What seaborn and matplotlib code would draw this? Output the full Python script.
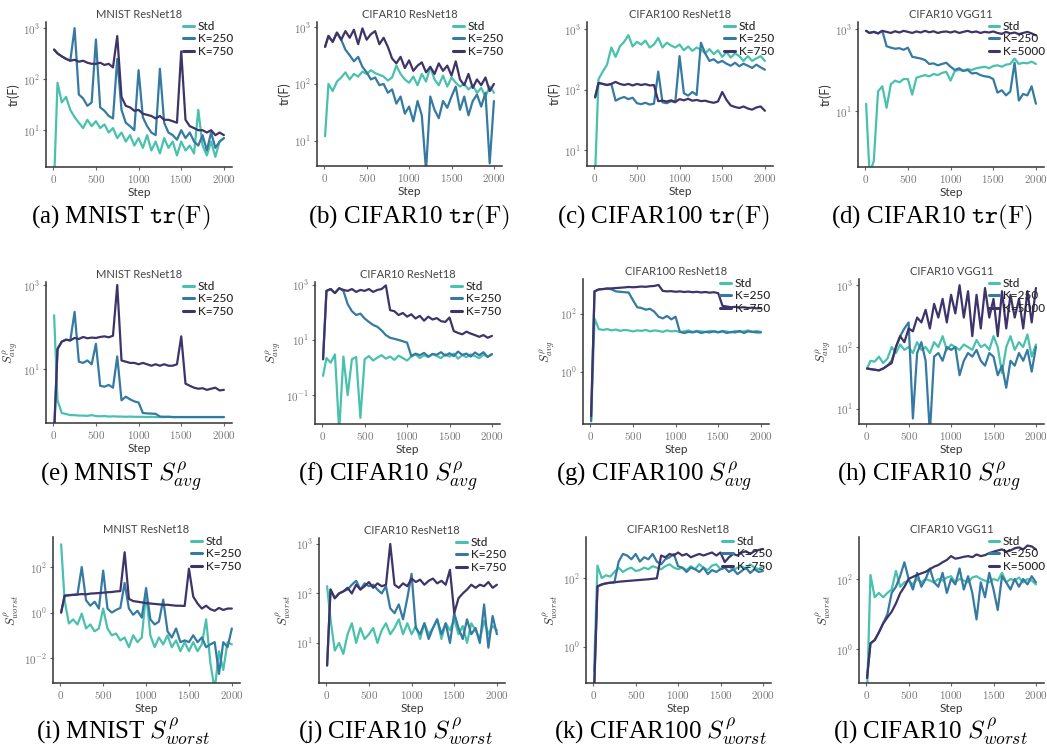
import numpy as np
import pandas as pd
import seaborn as sns
import matplotlib
matplotlib.use("Agg")
import matplotlib.pyplot as plt
from matplotlib.ticker import FixedLocator, FuncFormatter, NullLocator

sns.set_theme(style="ticks")
plt.rcParams["font.family"] = ["Lato", "DejaVu Sans"]
plt.rcParams["mathtext.fontset"] = "cm"

# ---------------- data (values at steps 10, 50, 100, ..., 2000) ----------------
steps = [10] + list(range(50, 2001, 50))

# (a) MNIST ResNet18 tr(F)
a_std = [1.0, 85, 35, 45, 25, 18, 14, 11, 16, 12,
         15, 11, 13, 9, 11, 7, 9, 6, 8, 5,
         7, 4.5, 8, 4, 6, 3.5, 7, 4.5, 6, 3.2,
         6, 4, 5, 3.5, 25, 5, 3.2, 6, 3, 6,
         7]
a_k250 = [380, 320, 280, 250, 230, 1000, 50, 42, 30, 35,
          600, 28, 24, 19, 17, 250, 25, 14, 12, 10,
          150, 18, 12, 9, 8, 160, 14, 9, 8, 6.5,
          10, 7, 9, 6, 5, 8, 4, 9, 4.5, 6,
          7]
a_k750 = [380, 320, 280, 250, 230, 240, 220, 230, 210, 200,
          200, 210, 190, 200, 170, 700, 45, 30, 28, 24,
          25, 21, 20, 19, 17, 19, 16, 16, 15, 14,
          350, 16, 12, 11, 10, 10, 9, 10, 8, 9,
          8]

# (b) CIFAR10 ResNet18 tr(F)
b_std = [12, 100, 75, 110, 130, 160, 120, 150, 135, 165,
         150, 175, 155, 145, 135, 115, 130, 210, 150, 120,
         105, 135, 95, 150, 110, 200, 120, 95, 140, 90,
         130, 105, 90, 100, 80, 95, 70, 85, 60, 90,
         70]
b_k250 = [450, 700, 550, 800, 600, 400, 320, 250, 300, 200,
          160, 120, 130, 95, 100, 70, 80, 45, 60, 30,
          40, 22, 50, 28, 3, 60, 35, 25, 50, 38,
          60, 90, 35, 60, 28, 50, 65, 40, 70, 4,
          50]
b_k750 = [450, 700, 550, 800, 600, 850, 650, 900, 500, 950,
          600, 750, 850, 500, 650, 450, 280, 230, 300, 190,
          260, 170, 210, 240, 160, 200, 150, 230, 170, 210,
          140, 250, 120, 95, 150, 85, 120, 95, 130, 75,
          100]

# (c) CIFAR100 ResNet18 tr(F)
c_std = [4, 150, 200, 260, 500, 350, 520, 620, 800, 520,
         620, 560, 650, 500, 560, 720, 500, 600, 540, 500,
         560, 450, 520, 440, 500, 460, 400, 470, 390, 450,
         350, 420, 340, 400, 360, 300, 360, 300, 330, 360,
         300]
c_k250 = [75, 130, 125, 120, 125, 66, 72, 76, 70, 74,
          60, 58, 61, 57, 59, 200, 62, 60, 65, 62,
          360, 88, 80, 92, 82, 600, 400, 300, 320, 280,
          300, 270, 250, 280, 245, 270, 250, 230, 260, 235,
          215]
c_k750 = [75, 130, 125, 120, 125, 135, 125, 120, 125, 118,
          125, 120, 124, 118, 120, 65, 66, 64, 67, 63,
          70, 67, 71, 66, 68, 65, 66, 63, 61, 64,
          92, 68, 55, 52, 50, 53, 49, 47, 51, 53,
          45]

# (d) CIFAR10 VGG11 tr(F)
d_std = [15, 0.3, 0.6, 30, 40, 12, 45, 55, 50, 60,
         60, 25, 65, 70, 75, 70, 80, 75, 85, 90,
         55, 95, 100, 95, 105, 100, 110, 115, 120, 110,
         125, 130, 120, 135, 140, 190, 140, 150, 145, 160,
         140]
d_k250 = [900, 800, 850, 780, 900, 380, 350, 330, 340, 310,
          350, 210, 200, 190, 175, 140, 145, 130, 140, 150,
          120, 100, 110, 95, 100, 82, 85, 75, 70, 68,
          60, 28, 32, 24, 30, 150, 18, 26, 24, 40,
          15]
d_k5000 = [900, 800, 850, 780, 900, 850, 800, 880, 820, 900,
           850, 800, 870, 820, 900, 830, 880, 800, 850, 870,
           820, 880, 800, 850, 900, 830, 870, 800, 850, 820,
           870, 800, 760, 850, 780, 820, 750, 800, 850, 780,
           700]

# (e) MNIST ResNet18 S_avg
e_std = [190, 1.8, 0.9, 0.85, 0.8, 0.8, 0.78, 0.78, 0.77, 0.8,
         0.76, 0.75, 0.76, 0.74, 0.75, 0.74, 0.74, 0.73, 0.74, 0.73,
         0.73, 0.73, 0.72, 0.73, 0.72, 0.72, 0.72, 0.73, 0.72, 0.72,
         0.72, 0.72, 0.72, 0.72, 0.72, 0.72, 0.72, 0.72, 0.72, 0.72,
         0.72]
e_k250 = [0.3, 30, 45, 50, 48, 230, 15, 14, 16, 13,
          40, 4, 3.8, 4.2, 3.6, 20, 1.8, 2.2, 1.9, 1.7,
          1.6, 0.9, 0.88, 0.87, 0.86, 0.74, 0.73, 0.73, 0.72, 0.72,
          0.72, 0.72, 0.72, 0.72, 0.72, 0.72, 0.72, 0.72, 0.72, 0.72,
          0.72]
e_k750 = [0.3, 30, 45, 50, 48, 55, 52, 58, 54, 56,
          55, 58, 60, 57, 62, 1000, 16, 15, 14, 14,
          13, 14, 13, 12, 13, 12, 13, 12, 12, 13,
          60, 4.5, 4, 3.6, 3.4, 3.5, 3.2, 3.4, 3.6, 3.1,
          3.2]

# (f) CIFAR10 ResNet18 S_avg
f_std = [0.5, 2.2, 1.5, 3, 0.005, 2.5, 0.1, 2, 2.4, 0.015,
         2, 2.6, 1.8, 2.3, 2.8, 2.1, 2.5, 1.9, 2.7, 2.2,
         1.8, 2.5, 3, 2.2, 2.8, 2.4, 3.1, 2.6, 2.2, 3,
         2.5, 3.2, 2.1, 2.8, 2.4, 3, 2.6, 2.2, 2.9, 2.5,
         3]
f_k250 = [2, 600, 700, 500, 750, 600, 200, 110, 80, 90,
          60, 45, 35, 30, 22, 15, 12, 11, 10, 9,
          8, 2.6, 3.2, 2.8, 3.4, 2.5, 3.1, 2.9, 3.6, 2.7,
          3.3, 2.6, 3.8, 2.9, 3.2, 2.5, 3.5, 2.8, 3.6, 2.4,
          3.1]
f_k750 = [2, 600, 700, 500, 750, 650, 600, 700, 550, 650,
          600, 700, 550, 650, 700, 950, 120, 110, 80, 95,
          70, 85, 60, 75, 50, 70, 55, 62, 48, 45,
          65, 21, 18, 16, 20, 17, 15, 13, 15, 12,
          14]

# (g) CIFAR100 ResNet18 S_avg
g_std = [0.02, 70, 30, 28, 30, 27, 29, 26, 28, 27,
         25, 27, 26, 28, 25, 27, 26, 24, 27, 25,
         26, 24, 25, 27, 24, 26, 25, 24, 26, 25,
         24, 26, 25, 23, 26, 24, 25, 27, 24, 26,
         24]
g_k250 = [0.02, 600, 700, 720, 750, 700, 600, 580, 560, 550,
          300, 170, 160, 140, 150, 120, 80, 70, 85, 65,
          80, 24, 22, 24, 23, 25, 22, 24, 23, 25,
          23, 25, 22, 24, 23, 26, 22, 25, 24, 23,
          23]
g_k750 = [0.03, 600, 700, 720, 750, 760, 780, 800, 820, 850,
          830, 850, 880, 860, 900, 920, 1000, 620, 600, 610,
          580, 600, 570, 590, 560, 580, 550, 570, 540, 560,
          520, 190, 180, 170, 175, 165, 170, 160, 165, 155,
          160]

# (h) CIFAR10 VGG11 S_avg
h_std = [45, 60, 58, 70, 55, 65, 100, 80, 110, 90,
         100, 80, 120, 90, 100, 80, 120, 100, 150, 90,
         110, 100, 90, 110, 100, 90, 130, 100, 110, 90,
         150, 100, 38, 100, 150, 90, 120, 100, 160, 70,
         110]
h_k250 = [45, 44, 43, 42, 45, 50, 60, 100, 150, 200,
          250, 7, 80, 120, 60, 4, 70, 80, 60, 100,
          90, 100, 35, 60, 80, 70, 90, 60, 50, 80,
          70, 35, 50, 22, 60, 50, 80, 60, 90, 40,
          100]
h_k5000 = [45, 44, 43, 42, 45, 50, 55, 100, 150, 120,
           200, 180, 300, 250, 400, 200, 500, 300, 600, 250,
           700, 350, 1000, 300, 800, 150, 700, 200, 900, 300,
           600, 150, 800, 200, 700, 300, 600, 200, 800, 250,
           900]

# (i) MNIST ResNet18 S_worst
i_std = [1000, 3.5, 0.33, 0.5, 0.3, 0.9, 0.2, 0.3, 0.15, 0.2,
         1.5, 0.2, 0.1, 0.12, 0.06, 0.08, 0.03, 0.1, 0.05, 0.08,
         7, 0.1, 0.03, 0.08, 0.04, 0.1, 0.03, 0.06, 0.02, 0.05,
         0.02, 0.05, 0.02, 0.04, 0.5, 0.006, 0.0004, 0.02, 0.003, 0.05,
         0.04]
i_k250 = [1, 5.5, 5.8, 6, 6.2, 100, 3.5, 2, 3, 1.5,
          70, 1.5, 1, 1.3, 1.6, 20, 1.5, 0.8, 1.2, 0.6,
          12, 0.5, 0.3, 0.4, 3.7, 0.15, 0.08, 0.2, 0.05, 0.06,
          0.05, 0.1, 0.05, 0.08, 0.03, 0.04, 0.05, 0.002, 0.05, 0.03,
          0.2]
i_k750 = [1, 5.5, 5.8, 6, 6.2, 6.5, 6.3, 6.8, 7, 7.2,
          7.5, 7.8, 8, 8.5, 8.8, 450, 4, 3.2, 3, 2.8,
          2.6, 2.5, 2.4, 2.3, 2.2, 2.2, 2.1, 2.0, 2.0, 1.95,
          85, 5, 2.5, 1.5, 2, 1.4, 1.2, 1.6, 1.3, 1.5,
          1.5]

# (j) CIFAR10 ResNet18 S_worst
j_std = [140, 30, 7, 10, 6, 15, 25, 10, 20, 12,
         15, 20, 10, 18, 25, 15, 20, 30, 15, 25,
         15, 22, 12, 25, 15, 20, 30, 12, 25, 18,
         30, 15, 22, 10, 25, 18, 12, 28, 15, 22,
         18]
j_k250 = [3.5, 120, 80, 100, 110, 120, 150, 180, 120, 160,
          140, 150, 120, 100, 140, 50, 40, 60, 30, 80,
          250, 20, 15, 25, 12, 20, 30, 15, 25, 10,
          40, 20, 12, 30, 15, 20, 10, 60, 8, 35,
          15]
j_k750 = [3.5, 120, 80, 100, 110, 130, 100, 150, 120, 140,
          170, 130, 160, 140, 150, 1000, 150, 130, 160, 140,
          200, 170, 190, 150, 180, 200, 160, 180, 150, 300,
          40, 80, 100, 120, 150, 130, 150, 140, 170, 130,
          150]

# (k) CIFAR100 ResNet18 S_worst
k_std = [0.2, 230, 100, 120, 110, 150, 200, 150, 180, 200,
         160, 170, 200, 180, 220, 200, 180, 220, 250, 200,
         180, 200, 170, 220, 180, 250, 200, 170, 230, 250,
         180, 200, 220, 170, 200, 220, 180, 250, 200, 180,
         220]
k_k250 = [0.05, 57, 65, 70, 73, 75, 300, 500, 450, 350,
          500, 300, 400, 350, 500, 300, 250, 350, 400, 500,
          220, 200, 150, 200, 180, 150, 200, 130, 170, 150,
          180, 200, 150, 180, 130, 160, 200, 140, 180, 150,
          160]
k_k750 = [0.05, 57, 65, 70, 73, 75, 78, 80, 82, 84,
          86, 88, 90, 92, 95, 98, 450, 400, 500, 450,
          550, 450, 500, 400, 450, 500, 450, 500, 550, 450,
          550, 290, 400, 500, 450, 550, 600, 500, 600, 650,
          700]

# (l) CIFAR10 VGG11 S_worst
l_std = [0.05, 130, 30, 40, 30, 40, 50, 170, 60, 80,
         90, 70, 100, 80, 100, 90, 80, 100, 90, 110,
         120, 80, 100, 90, 80, 110, 120, 100, 90, 80,
         100, 90, 150, 80, 100, 90, 110, 80, 100, 90,
         70]
l_k250 = [0.15, 1.45, 1.8, 3, 5.4, 10, 40, 60, 120, 300,
          100, 50, 150, 60, 100, 200, 80, 60, 150, 40,
          100, 70, 200, 50, 120, 40, 7, 80, 30, 150,
          50, 13, 120, 80, 50, 100, 60, 100, 70, 120,
          80]
l_k5000 = [0.15, 1.45, 1.8, 3, 5.4, 8, 11.6, 20, 39, 60,
           100, 115, 130, 145, 160, 190, 225, 250, 300, 350,
           450, 380, 400, 430, 450, 420, 500, 450, 480, 550,
           600, 650, 700, 600, 650, 750, 800, 700, 900, 850,
           700]

labels_resnet = ["Std", "K=250", "K=750"]
labels_vgg = ["Std", "K=250", "K=5000"]
titles = ["MNIST ResNet18", "CIFAR10 ResNet18", "CIFAR100 ResNet18", "CIFAR10 VGG11"]
datasets = ["MNIST", "CIFAR10", "CIFAR100", "CIFAR10"]
ylabels = [r"tr(F)", r"$S^{\rho}_{avg}$", r"$S^{\rho}_{worst}$"]
cap_metrics = [r"$\mathtt{tr}(\mathrm{F})$", r"$S^{\rho}_{avg}$", r"$S^{\rho}_{worst}$"]
letters = "abcdefghijkl"

series = [
    [a_std, a_k250, a_k750], [b_std, b_k250, b_k750], [c_std, c_k250, c_k750], [d_std, d_k250, d_k5000],
    [e_std, e_k250, e_k750], [f_std, f_k250, f_k750], [g_std, g_k250, g_k750], [h_std, h_k250, h_k5000],
    [i_std, i_k250, i_k750], [j_std, j_k250, j_k750], [k_std, k_k250, k_k750], [l_std, l_k250, l_k5000],
]

ylims = [(1.9, 1320), (3.6, 1230), (5.5, 1320), (0.43, 1480),
         (0.52, 1180), (0.009, 1260), (0.016, 1600), (5.7, 1260),
         (0.0008, 2100), (1.55, 1320), (0.09, 1550), (0.107, 1580)]
ytick_exps = [[1, 2, 3], [1, 2, 3], [1, 2, 3], [1, 3],
              [1, 3], [-1, 1, 3], [0, 2], [1, 2, 3],
              [-2, 0, 2], [1, 2, 3], [0, 2], [0, 2]]

# axes boxes in pixels: left, top, right, bottom
boxes = [(46, 22, 232, 167), (317, 22, 502, 166), (587, 22, 773, 166), (858, 22, 1044, 167),
         (46, 282, 232, 423), (315, 282, 500, 424), (583, 279, 769, 424), (859, 279, 1044, 424),
         (53, 537, 240, 683), (319, 538, 505, 683), (586, 537, 771, 683), (859, 537, 1044, 683)]
cap_x = [121, 409, 663, 932, 121, 388, 654, 929, 123, 395, 660, 930]
cap_y = [217, 477, 732]

W, H = 1047, 752
palette = sns.color_palette("mako_r", 3)

fig = plt.figure(figsize=(W / 100, H / 100), dpi=100)

for idx in range(12):
    row, col = divmod(idx, 4)
    L, T, R, B = boxes[idx]
    ax = fig.add_axes([L / W, 1 - B / H, (R - L) / W, (B - T) / H])
    labels = labels_vgg if col == 3 else labels_resnet
    frames = []
    for lab, vals in zip(labels, series[idx]):
        frames.append(pd.DataFrame({"Step": steps, "value": vals, "Run": lab}))
    df = pd.concat(frames, ignore_index=True)
    sns.lineplot(data=df, x="Step", y="value", hue="Run", hue_order=labels,
                 palette=palette, linewidth=1.6, estimator=None, sort=False,
                 ax=ax, legend=True)
    ax.set_yscale("log")
    ax.set_ylim(*ylims[idx])
    ax.set_xlim(-85, 2095)
    ax.yaxis.set_major_locator(FixedLocator([10.0 ** e for e in ytick_exps[idx]]))
    ax.yaxis.set_minor_locator(NullLocator())
    ax.yaxis.set_major_formatter(FuncFormatter(lambda v, p: r"$10^{%d}$" % int(round(np.log10(v)))))
    ax.xaxis.set_major_locator(FixedLocator([0, 500, 1000, 1500, 2000]))
    ax.xaxis.set_major_formatter(FuncFormatter(lambda v, p: r"$%d$" % int(v)))
    sns.despine(ax=ax)
    for s in ("left", "bottom"):
        ax.spines[s].set_color("#333333")
        ax.spines[s].set_linewidth(1.1)
    ax.tick_params(axis="both", length=2.5, width=0.8, color="#666666",
                   labelsize=8, labelcolor="#777777", pad=2)
    ax.set_title(titles[col], fontsize=8, color="#444444", pad=3)
    ax.set_xlabel("Step", fontsize=8.5, color="#333333", labelpad=1)
    ax.set_ylabel(ylabels[row], fontsize=9, color="#333333", labelpad=2)
    handles, hl = ax.get_legend_handles_labels()
    leg = ax.legend(handles, hl, loc="upper right", bbox_to_anchor=(1.03, 1.04),
                    frameon=False, prop={"size": 8.5, "weight": "medium"},
                    handlelength=0.9, handletextpad=0.3,
                    labelspacing=0.12, borderaxespad=0.2, borderpad=0.2)
    for lh in leg.get_lines():
        lh.set_linewidth(2.2)
    fig.text(cap_x[idx] / W, 1 - cap_y[row] / H,
             "(%s) %s " % (letters[idx], datasets[col]) + cap_metrics[row],
             family="Liberation Serif", fontsize=18, ha="center", va="center",
             color="black")

fig.savefig("out.png", dpi=100)
